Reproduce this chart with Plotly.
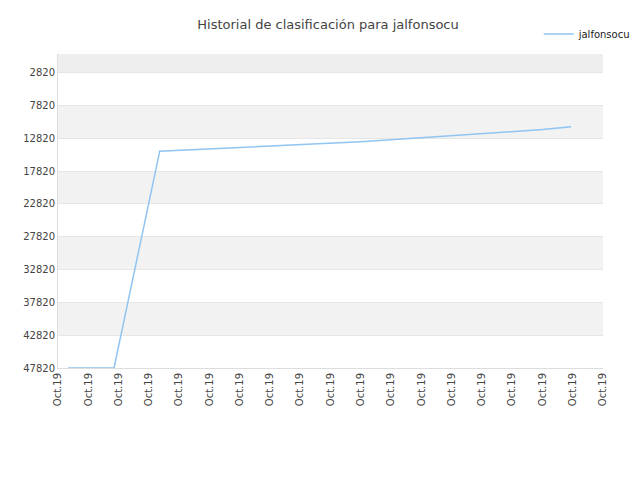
import plotly.graph_objects as go

# ranking history (lower number = better rank, axis reversed)
pos_x = [0.33, 1.85, 3.36, 4.0, 5.0, 6.0, 7.0, 8.0, 9.0, 10.0, 11.0, 12.0,
         13.0, 14.0, 15.0, 16.0, 16.95]
rank = [47820, 47820, 14780, 14650, 14450, 14250, 14050, 13850, 13600, 13350,
        13050, 12750, 12450, 12150, 11850, 11500, 11050]
tick_labels = ["Oct.19"] * 19
y_ticks = [2820, 7820, 12820, 17820, 22820, 27820, 32820, 37820, 42820, 47820]

fig = go.Figure()

# alternating background bands
bands = [(-20, 2820, "#eeeeee"), (7820, 12820, "#f2f2f2"), (17820, 22820, "#f2f2f2"),
         (27820, 32820, "#f2f2f2"), (37820, 42820, "#f2f2f2")]
for y0, y1, c in bands:
    fig.add_shape(type="rect", xref="paper", x0=0, x1=1, yref="y", y0=y0, y1=y1,
                  fillcolor=c, line_width=0, layer="below")

fig.add_trace(go.Scatter(
    x=pos_x, y=rank, mode="lines", name="jalfonsocu",
    line=dict(color="#90c4f2", width=1.5)
))

fig.update_layout(
    title=dict(text="Historial de clasificación para jalfonsocu", x=0.5, xanchor="center",
               y=0.975, font=dict(size=13, color="#444", family="DejaVu Sans")),
    width=640, height=480,
    margin=dict(l=50, r=39, t=40, b=120),
    plot_bgcolor="white", paper_bgcolor="white",
    font=dict(family="DejaVu Sans", size=10, color="#444"),
    showlegend=True,
    legend=dict(x=1.06, y=1.11, xanchor="right", yanchor="top", font=dict(size=10, color="#222")),
    xaxis=dict(range=[0, 18], tickvals=list(range(19)), ticktext=tick_labels,
               tickangle=-90, showgrid=False, showline=True, linecolor="#ddd",
               zeroline=False, ticks="", automargin=False),
    yaxis=dict(range=[47820, -20], tickvals=y_ticks, ticktext=[str(v) for v in y_ticks],
               showgrid=True, gridcolor="#e6e6e6", zeroline=False, showline=True,
               linecolor="#ddd", automargin=False),
)

fig.write_html("out.html")
